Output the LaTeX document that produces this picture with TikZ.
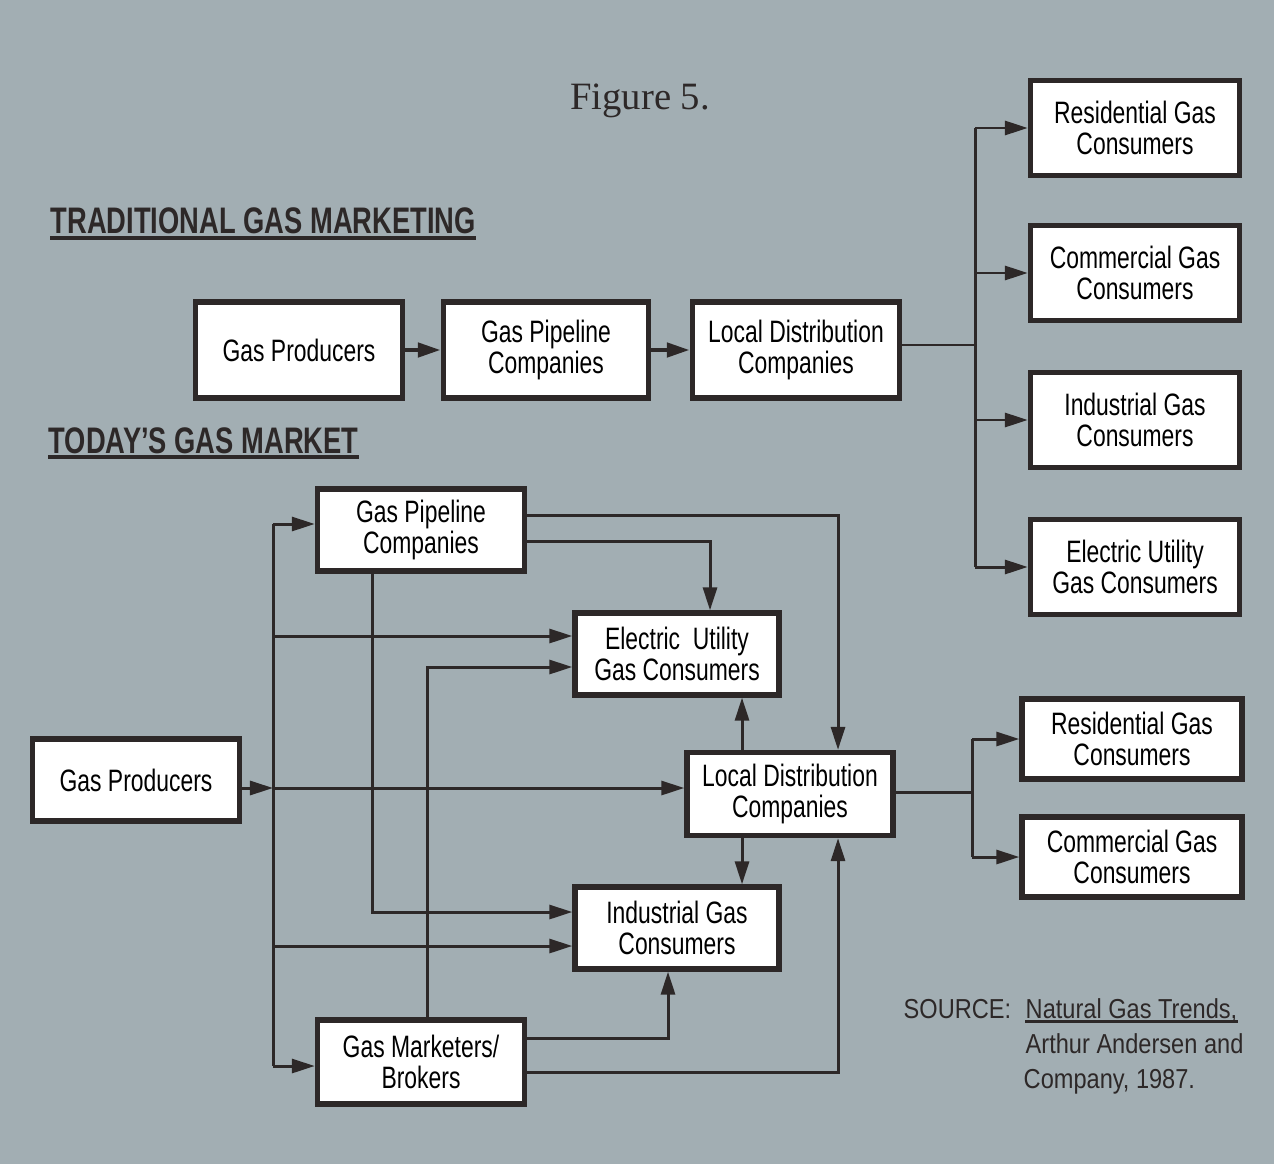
\documentclass[tikz,border=0pt]{standalone}
\usepackage{fontspec}
\setsansfont[FakeStretch=0.74]{Liberation Sans}
\newfontfamily\srcfont[FakeStretch=0.86]{Liberation Sans}
\newfontfamily\figfont{Liberation Serif}
\usetikzlibrary{arrows.meta}
\definecolor{paper}{RGB}{162,174,179}
\definecolor{ink}{RGB}{45,40,40}
\begin{document}
\begin{tikzpicture}[x=0.01cm, y=-0.01cm,
    box/.style={draw=ink, line width=1.5pt, fill=white, align=center, inner sep=0pt,
      text=black, font=\sffamily\fontsize{8.8}{8.9}\selectfont},
    wire/.style={draw=ink, line width=0.85pt},
    arr/.style={wire, -{Triangle[length=0.23cm,width=0.14cm]}},
    head/.style={anchor=base west, inner sep=0pt, text=ink,
      font=\sffamily\bfseries\fontsize{10.5}{12}\selectfont},
    src/.style={anchor=base west, inner sep=0pt, text=ink,
      font=\srcfont\fontsize{7.8}{9}\selectfont}]
  \fill[paper] (0,0) rectangle (1274,1164);

  \node[anchor=base, inner sep=0pt, text=ink, font=\figfont\fontsize{11}{13}\selectfont] (fig) at (640,110) {Figure 5.};

  % traditional gas marketing
  \node[head] (h1) at (50,234) {TRADITIONAL GAS MARKETING};
  \draw[ink, line width=0.9pt] ([yshift=-0.04cm]h1.base west) -- ([yshift=-0.04cm]h1.base east);
  \node[box, minimum width=2.07cm, minimum height=0.96cm] (gp1) at (299,350) {Gas Producers};
  \node[box, minimum width=2.05cm, minimum height=0.96cm] (pl1) at (546,350) {Gas Pipeline\\Companies};
  \node[box, minimum width=2.07cm, minimum height=0.96cm] (ld1) at (796,350) {Local Distribution\\Companies};
  \foreach \n/\y/\t in {res1/128/{Residential Gas\\Consumers}, com1/273/{Commercial Gas\\Consumers},
      ind1/420/{Industrial Gas\\Consumers}, ele1/567/{Electric Utility\\Gas Consumers}}
    \node[box, minimum width=2.09cm, minimum height=0.95cm] (\n) at (1135,\y) {\t};
  \draw[arr, line width=1.3pt] (gp1) -- (pl1);
  \draw[arr, line width=1.3pt] (pl1) -- (ld1);
  \coordinate (tb) at (975,345);
  \draw[wire] (ld1.east |- tb) -- (tb);
  \draw[wire] (tb |- res1) -- (tb |- ele1);
  \foreach \n in {res1,com1,ind1,ele1}
    \draw[arr] (tb |- \n) -- (\n);

  % today's gas market
  \node[head] (h2) at (48,453) {TODAY'S GAS MARKET};
  \draw[ink, line width=0.9pt] ([yshift=-0.04cm]h2.base west) -- ([yshift=-0.04cm]h2.base east);
  \node[box, minimum width=2.07cm, minimum height=0.82cm] (pl2) at (421,530) {Gas Pipeline\\Companies};
  \node[box, minimum width=2.04cm, minimum height=0.82cm] (eu2) at (677,654) {Electric\ \ Utility\\Gas Consumers};
  \node[box, minimum width=2.07cm, minimum height=0.82cm] (gp2) at (136,780) {Gas Producers};
  \node[box, minimum width=2.06cm, minimum height=0.83cm] (ld2) at (790,794) {Local Distribution\\Companies};
  \node[box, minimum width=2.04cm, minimum height=0.82cm] (in2) at (677,928) {Industrial Gas\\Consumers};
  \node[box, minimum width=2.07cm, minimum height=0.84cm] (mk2) at (421,1062) {Gas Marketers/\\Brokers};
  \node[box, minimum width=2.20cm, minimum height=0.80cm] (res2) at (1132,739) {Residential Gas\\Consumers};
  \node[box, minimum width=2.20cm, minimum height=0.80cm] (com2) at (1132,857) {Commercial Gas\\Consumers};

  % producers
  \coordinate (bus) at (273,788);
  \coordinate (b1) at (273,524);
  \coordinate (b2) at (273,636);
  \coordinate (b3) at (273,946);
  \coordinate (b4) at (273,1066);
  \draw[wire] (b1) -- (b4);
  \foreach \c/\n in {b1/pl2, b2/eu2, b3/in2, b4/mk2}
    \draw[arr] (\c) -- (\c -| \n.west);
  \draw[arr] (gp2.east |- bus) -- (bus);
  \draw[arr] (bus) -- (bus -| ld2.west);

  % pipelines
  \coordinate (p1) at (838,515);
  \coordinate (p2) at (710,541);
  \coordinate (p3) at (372,912);
  \draw[arr] (pl2.east |- p1) -| (ld2.north -| p1);
  \draw[arr] (pl2.east |- p2) -| (eu2.north -| p2);
  \draw[arr] (pl2.south -| p3) |- (in2.west |- p3);

  % marketers
  \coordinate (m1) at (427,667);
  \coordinate (m2) at (668,1038);
  \coordinate (m3) at (838,1072);
  \draw[arr] (mk2.north -| m1) |- (eu2.west |- m1);
  \draw[arr] (mk2.east |- m2) -| (in2.south -| m2);
  \draw[arr] (mk2.east |- m3) -| (ld2.south -| m3);

  % local distribution
  \coordinate (lx) at (742,794);
  \draw[arr] (ld2.north -| lx) -- (eu2.south -| lx);
  \draw[arr] (ld2.south -| lx) -- (in2.north -| lx);
  \coordinate (rb) at (972,792);
  \draw[wire] (ld2.east |- rb) -- (rb);
  \draw[wire] (rb |- res2) -- (rb |- com2);
  \foreach \n in {res2,com2}
    \draw[arr] (rb |- \n) -- (\n);

  % source
  \node[src] (s0) at (903,1018) {SOURCE:};
  \node[src] (s1) at (1025,1018) {Natural Gas Trends,};
  \draw[ink, line width=0.6pt] ([yshift=-0.035cm]s1.base west) -- ([yshift=-0.035cm]s1.base east);
  \node[src] (s2) at (1025,1053) {Arthur Andersen and};
  \node[src] (s3) at (1023,1088) {Company, 1987.};
\end{tikzpicture}
\end{document}
